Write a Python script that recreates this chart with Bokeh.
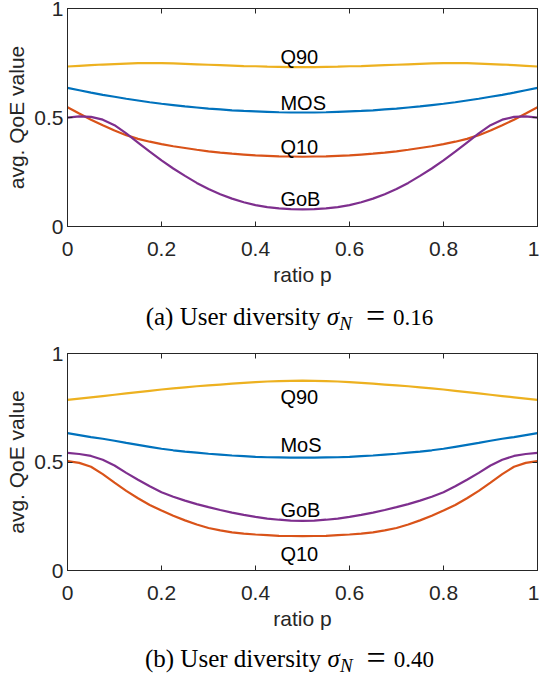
from bokeh.plotting import figure
from bokeh.models import Range1d, FixedTicker, LinearAxis, Div, ColumnDataSource
from bokeh.layouts import column
from bokeh.core.properties import value
from bokeh.embed import file_html
from bokeh.resources import INLINE

# ---------------- data ----------------
p = [0.000, 0.025, 0.050, 0.075, 0.100, 0.125, 0.150, 0.175, 0.200, 0.225, 0.250,
     0.275, 0.300, 0.325, 0.350, 0.375, 0.400, 0.425, 0.450, 0.475, 0.500,
     0.525, 0.550, 0.575, 0.600, 0.625, 0.650, 0.675, 0.700, 0.725, 0.750,
     0.775, 0.800, 0.825, 0.850, 0.875, 0.900, 0.925, 0.950, 0.975, 1.000]

# (a) sigma_N = 0.16
q90_a = [0.734, 0.737, 0.740, 0.743, 0.745, 0.747, 0.749, 0.750, 0.749, 0.748, 0.746,
         0.744, 0.742, 0.740, 0.738, 0.736, 0.735, 0.733, 0.732, 0.731, 0.731,
         0.731, 0.732, 0.733, 0.735, 0.736, 0.738, 0.740, 0.742, 0.744, 0.746,
         0.748, 0.749, 0.750, 0.749, 0.747, 0.745, 0.743, 0.740, 0.737, 0.734]
mos_a = [0.636, 0.625, 0.614, 0.604, 0.595, 0.586, 0.578, 0.570, 0.563, 0.557, 0.551,
         0.546, 0.541, 0.537, 0.533, 0.530, 0.528, 0.526, 0.524, 0.523, 0.523,
         0.523, 0.524, 0.526, 0.528, 0.530, 0.533, 0.537, 0.541, 0.546, 0.551,
         0.557, 0.563, 0.570, 0.578, 0.586, 0.595, 0.604, 0.614, 0.625, 0.636]
q10_a = [0.547, 0.518, 0.490, 0.464, 0.440, 0.419, 0.402, 0.389, 0.378, 0.368, 0.360,
         0.352, 0.345, 0.339, 0.334, 0.330, 0.326, 0.324, 0.322, 0.321, 0.320,
         0.321, 0.322, 0.324, 0.326, 0.330, 0.334, 0.339, 0.345, 0.352, 0.360,
         0.368, 0.378, 0.389, 0.402, 0.419, 0.440, 0.464, 0.490, 0.518, 0.547]
gob_a = [0.499, 0.505, 0.503, 0.490, 0.465, 0.427, 0.385, 0.343, 0.303, 0.266, 0.232,
         0.200, 0.172, 0.148, 0.128, 0.111, 0.098, 0.089, 0.083, 0.080, 0.079,
         0.080, 0.083, 0.089, 0.098, 0.111, 0.128, 0.148, 0.172, 0.200, 0.232,
         0.266, 0.303, 0.343, 0.385, 0.427, 0.465, 0.490, 0.503, 0.505, 0.499]

# (b) sigma_N = 0.40
q90_b = [0.786, 0.792, 0.798, 0.804, 0.810, 0.816, 0.822, 0.828, 0.834, 0.839, 0.844,
         0.849, 0.853, 0.857, 0.861, 0.865, 0.868, 0.871, 0.873, 0.874, 0.875,
         0.874, 0.873, 0.871, 0.868, 0.865, 0.861, 0.857, 0.853, 0.849, 0.844,
         0.839, 0.834, 0.828, 0.822, 0.816, 0.810, 0.804, 0.798, 0.792, 0.786]
mos_b = [0.633, 0.624, 0.615, 0.607, 0.598, 0.588, 0.579, 0.570, 0.561, 0.554, 0.548,
         0.543, 0.538, 0.534, 0.530, 0.527, 0.524, 0.522, 0.521, 0.520, 0.520,
         0.520, 0.521, 0.522, 0.524, 0.527, 0.530, 0.534, 0.538, 0.543, 0.548,
         0.554, 0.561, 0.570, 0.579, 0.588, 0.598, 0.607, 0.615, 0.624, 0.633]
gob_b = [0.542, 0.537, 0.528, 0.510, 0.484, 0.450, 0.418, 0.388, 0.361, 0.340, 0.322,
         0.306, 0.292, 0.279, 0.267, 0.256, 0.247, 0.239, 0.234, 0.230, 0.229,
         0.230, 0.234, 0.239, 0.247, 0.256, 0.267, 0.279, 0.292, 0.306, 0.322,
         0.340, 0.361, 0.388, 0.418, 0.450, 0.484, 0.510, 0.528, 0.537, 0.542]
q10_b = [0.504, 0.496, 0.478, 0.444, 0.405, 0.367, 0.333, 0.302, 0.276, 0.252, 0.231,
         0.212, 0.196, 0.185, 0.176, 0.170, 0.166, 0.163, 0.160, 0.159, 0.158,
         0.159, 0.160, 0.163, 0.166, 0.170, 0.176, 0.185, 0.196, 0.212, 0.231,
         0.252, 0.276, 0.302, 0.333, 0.367, 0.405, 0.444, 0.478, 0.496, 0.504]

x_ticks = [0, 0.2, 0.4, 0.6, 0.8, 1]
x_tick_labels = ["0", "0.2", "0.4", "0.6", "0.8", "1"]
y_ticks = [0, 0.5, 1]
y_tick_labels = ["0", "0.5", "1"]

labels_a = ["Q90", "MOS", "Q10", "GoB"]
labels_a_x = [0.453, 0.453, 0.453, 0.453]
labels_a_y = [0.779, 0.568, 0.363, 0.126]

labels_b = ["Q90", "MoS", "GoB", "Q10"]
labels_b_x = [0.453, 0.453, 0.453, 0.453]
labels_b_y = [0.798, 0.578, 0.280, 0.078]

sigma_a = "0.16"
sigma_b = "0.40"


def caption(tag, val):
    return ("%s User diversity <i style='font-size:25px'>&sigma;</i>"
            "<i style='font-size:19px;position:relative;top:5px'>N</i>"
            "<span style='font-size:34px;margin:0 8px 0 14px;position:relative;top:2px'>=</span>"
            "<span style='font-size:23px'>%s</span>" % (tag, val))


# ---------------- style ----------------
C_BLUE = "#0072BD"
C_ORANGE = "#D95319"
C_YELLOW = "#EDB120"
C_PURPLE = "#7E2F8E"
AX = "#262626"
SANS = "Liberation Sans"
SERIF = "Liberation Serif"


def make_fig(height, top_border, bottom_border, series, lab_text, lab_x, lab_y):
    f = figure(width=539, height=height, output_backend="svg", toolbar_location=None,
               x_range=Range1d(0, 1), y_range=Range1d(0, 1),
               min_border_left=67, min_border_right=2,
               min_border_top=top_border, min_border_bottom=bottom_border)
    f.grid.visible = False
    f.outline_line_color = AX
    f.outline_line_width = 1
    f.background_fill_color = "white"
    f.border_fill_color = "white"

    for ys, col in series:
        f.line(p, ys, line_color=col, line_width=2.2)

    src = ColumnDataSource(dict(x=lab_x, y=lab_y, t=lab_text))
    f.text("x", "y", text="t", source=src, text_font=value(SANS),
           text_font_size="20px", text_color="black", text_baseline="alphabetic",
           text_align="left")

    xa = f.xaxis[0]
    xa.ticker = FixedTicker(ticks=x_ticks)
    xa.major_label_overrides = {t: l for t, l in zip(x_ticks, x_tick_labels)}
    xa.axis_label = "ratio p"
    ya = f.yaxis[0]
    ya.ticker = FixedTicker(ticks=y_ticks)
    ya.major_label_overrides = {t: l for t, l in zip(y_ticks, y_tick_labels)}
    ya.axis_label = "avg. QoE value"
    for a in (xa, ya):
        a.axis_line_color = AX
        a.major_tick_line_color = AX
        a.major_tick_in = 5
        a.major_tick_out = 0
        a.minor_tick_line_color = None
        a.major_label_text_font = SANS
        a.major_label_text_font_size = "21px"
        a.major_label_text_color = AX
        a.axis_label_text_font = SANS
        a.axis_label_text_font_size = "21px"
        a.axis_label_text_font_style = "normal"
        a.axis_label_text_color = AX
    xa.major_label_standoff = 15
    xa.axis_label_standoff = 4
    ya.major_label_standoff = 4
    ya.axis_label_standoff = 3

    top = LinearAxis(ticker=FixedTicker(ticks=x_ticks),
                     major_label_overrides={t: "" for t in x_ticks},
                     major_tick_in=5, major_tick_out=0, major_label_standoff=0,
                     minor_tick_line_color=None, axis_line_color=AX,
                     major_tick_line_color=AX)
    right = LinearAxis(ticker=FixedTicker(ticks=y_ticks),
                       major_label_overrides={t: "" for t in y_ticks},
                       major_tick_in=5, major_tick_out=0, major_label_standoff=0,
                       minor_tick_line_color=None, axis_line_color=AX,
                       major_tick_line_color=AX)
    f.add_layout(top, "above")
    f.add_layout(right, "right")
    return f


fig_a = make_fig(301, 8, 75,
                 [(q90_a, C_YELLOW), (mos_a, C_BLUE), (q10_a, C_ORANGE), (gob_a, C_PURPLE)],
                 labels_a, labels_a_x, labels_a_y)
fig_b = make_fig(308, 18, 73,
                 [(q90_b, C_YELLOW), (mos_b, C_BLUE), (q10_b, C_ORANGE), (gob_b, C_PURPLE)],
                 labels_b, labels_b_x, labels_b_y)

cap_style = {"font-family": SERIF, "font-size": "25px", "color": "black",
             "text-align": "center", "padding-left": "40px", "line-height": "26px",
             "width": "100%", "box-sizing": "border-box", "white-space": "nowrap"}
div_a = Div(text=caption("(a)", sigma_a), width=539, height=34, styles=cap_style,
            margin=(0, 0, 0, 0))
div_b = Div(text=caption("(b)", sigma_b), width=539, height=38, styles=cap_style,
            margin=(0, 0, 0, 0))

layout = column(fig_a, div_a, fig_b, div_b, margin=(0, 0, 0, 0), spacing=0)

open("out.html", "w").write(file_html(layout, INLINE))
